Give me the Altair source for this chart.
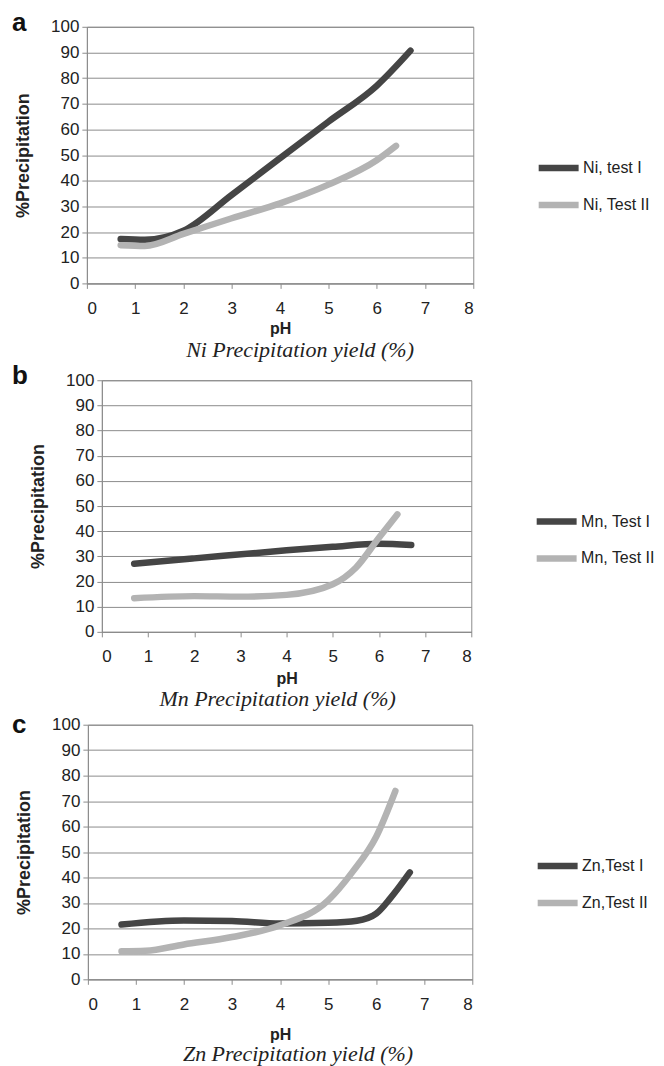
import altair as alt
import pandas as pd

# ---- data ----
ph_ni1 = [0.7, 1.2, 2.0, 3.0, 4.0, 5.0, 6.0, 6.7]
ni1 = [17.3, 17.0, 20.5, 34.5, 48.8, 63.0, 77.0, 90.7]
ph_ni2 = [0.7, 1.2, 2.0, 3.0, 4.0, 5.0, 6.0, 6.4]
ni2 = [14.9, 14.6, 19.3, 25.4, 31.2, 38.5, 48.0, 53.6]

ph_mn1 = [0.7, 2.0, 4.0, 5.0, 6.0, 6.7]
mn1 = [27.1, 29.2, 32.4, 33.8, 35.0, 34.5]
ph_mn2 = [0.7, 2.0, 3.0, 4.0, 5.0, 5.5, 6.0, 6.4]
mn2 = [13.4, 14.2, 14.0, 14.7, 18.9, 25.5, 37.4, 46.7]

ph_zn1 = [0.7, 2.0, 3.0, 4.0, 5.0, 5.6, 6.0, 6.3, 6.7]
zn1 = [21.5, 23.1, 22.9, 21.9, 22.2, 23.0, 25.8, 32.0, 42.0]
ph_zn2 = [0.7, 1.2, 2.0, 3.0, 4.0, 5.0, 5.5, 6.0, 6.4]
zn2 = [11.0, 11.2, 13.7, 16.6, 21.2, 31.0, 42.0, 56.0, 74.0]

x_ticks = [0, 1, 2, 3, 4, 5, 6, 7, 8]
y_ticks = [0, 10, 20, 30, 40, 50, 60, 70, 80, 90, 100]

DARK = "#454545"
LIGHT = "#b3b3b3"
GRID = "#8c8c8c"
TXT = "#222222"
SANS = "Liberation Sans"


def panel(letter, s1, x1, y1, s2, x2, y2, title, w, h, letter_x, letter_y,
          leg_x, leg_y, title_dx, title_off, x_title_pad):
    df = pd.concat([
        pd.DataFrame({"pH": x1, "val": y1, "series": s1, "ord": range(len(x1))}),
        pd.DataFrame({"pH": x2, "val": y2, "series": s2, "ord": range(len(x2))}),
    ])
    lines = alt.Chart(df).mark_line(
        strokeWidth=6.5, strokeCap="round", strokeJoin="round",
        interpolate="monotone"
    ).encode(
        x=alt.X("pH:Q", scale=alt.Scale(domain=[0, 8], nice=False),
                axis=alt.Axis(values=x_ticks, title="pH", grid=False,
                              tickSize=5, labelPadding=12,
                              titlePadding=x_title_pad)),
        y=alt.Y("val:Q", scale=alt.Scale(domain=[0, 100], nice=False),
                axis=alt.Axis(values=y_ticks, title="%Precipitation", grid=True,
                              tickSize=5, labelPadding=3, titlePadding=18)),
        color=alt.Color("series:N",
                        scale=alt.Scale(domain=[s1, s2], range=[DARK, LIGHT]),
                        legend=alt.Legend(title=None, orient="none",
                                          legendX=leg_x, legendY=leg_y,
                                          symbolType="stroke", symbolSize=1600,
                                          symbolStrokeWidth=6.5,
                                          labelFontSize=16, labelFont=SANS,
                                          labelColor=TXT, labelOffset=1,
                                          rowPadding=0, padding=0)),
        order="ord:Q",
        detail="series:N",
    )
    lab = alt.Chart(pd.DataFrame({"letter": [letter]})).mark_text(
        align="left", baseline="top", fontSize=26, fontWeight="bold",
        font=SANS, color="#111111"
    ).encode(x=alt.value(letter_x), y=alt.value(letter_y), text="letter:N")
    body = alt.layer(lines, lab).properties(
        width=w, height=h,
        title=alt.TitleParams(title, orient="bottom", font="Liberation Serif",
                              fontStyle="italic", fontWeight="normal",
                              fontSize=22, color=TXT, dx=title_dx,
                              offset=title_off),
    )
    spacer = alt.Chart(pd.DataFrame({"s": [0]})).mark_point(
        size=0, opacity=0, filled=True, strokeWidth=0
    ).properties(
        width=1, height=1, view=alt.ViewBackground(stroke="transparent")
    )
    return alt.hconcat(spacer, body, spacing=0).resolve_scale(color="independent")


pa = panel("a", "Ni, test I", ph_ni1, ni1, "Ni, Test II", ph_ni2, ni2,
           "Ni Precipitation yield (%)", 387, 257, -75, -17, 449, 118, 20, 4, 4)
pb = panel("b", "Mn, Test I", ph_mn1, mn1, "Mn, Test II", ph_mn2, mn2,
           "Mn  Precipitation yield (%)", 370, 252, -90, -17.5, 432, 118, -9, 2, 6)
pc = panel("c", "Zn,Test I", ph_zn1, zn1, "Zn,Test II", ph_zn2, zn2,
           "Zn Precipitation yield (%)", 385, 255, -76, -13, 447, 118, 18, 2, 14)

chart = alt.vconcat(pa, pb, pc, spacing=0).resolve_scale(
    color="independent"
).properties(padding=0).configure_view(
    stroke=GRID, strokeWidth=1
).configure_axis(
    domainColor=GRID, tickColor=GRID, gridColor=GRID, gridWidth=1,
    labelFont=SANS, labelFontSize=17, labelColor=TXT,
    titleFont=SANS, titleFontSize=16, titleFontWeight="bold", titleColor=TXT,
).configure_axisY(titleFontSize=18)

chart.save("out.html", embed_options={"renderer": "svg", "actions": False})
